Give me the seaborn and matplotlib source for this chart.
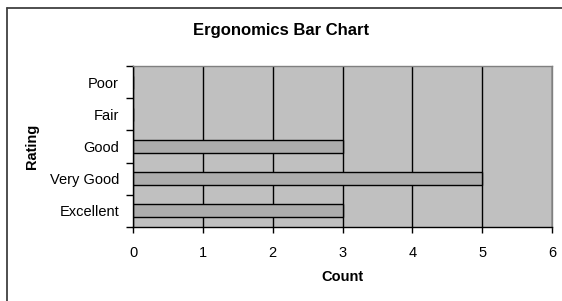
import matplotlib
matplotlib.use("Agg")
import matplotlib.pyplot as plt
import matplotlib.lines as mlines
import seaborn as sns
import pandas as pd

ratings = ["Poor", "Fair", "Good", "Very Good", "Excellent"]
counts = [0, 0, 3, 5, 3]
x_ticks = [0, 1, 2, 3, 4, 5, 6]

df = pd.DataFrame({"Rating": ratings, "Count": counts})

sns.set_style("white")
plt.rcParams['font.family'] = ['Liberation Sans', 'DejaVu Sans']
plt.rcParams['text.color'] = 'black'
plt.rcParams['axes.labelcolor'] = 'black'
plt.rcParams['xtick.color'] = 'black'
plt.rcParams['ytick.color'] = 'black'

fig = plt.figure(figsize=(5.62, 3.01), dpi=100)
ax = fig.add_axes([133 / 562, 1 - 227 / 301, 419 / 562, 161 / 301])

# outer chart frame: only top and left edges are inside the picture
fy = 1 - 7.5 / 301
fx = 7 / 562
fig.lines.append(mlines.Line2D([fx, 1.0], [fy, fy], transform=fig.transFigure,
                               color="#404040", linewidth=1.3))
fig.lines.append(mlines.Line2D([fx, fx], [0.0, fy], transform=fig.transFigure,
                               color="#404040", linewidth=1.3))

sns.barplot(data=df, x="Count", y="Rating", order=ratings, orient="h",
            width=0.4, color="#acacac", saturation=1,
            edgecolor="black", linewidth=1, ax=ax)

ax.set_facecolor("#c0c0c0")
ax.set_axisbelow(True)
ax.set_xlim(0, 6)
ax.set_xticks(x_ticks)
ax.xaxis.grid(True, color="black", linewidth=1)
ax.yaxis.grid(False)

ax.set_yticks(range(len(ratings)))
ax.set_yticks([i - 0.5 for i in range(len(ratings) + 1)], minor=True)
ax.tick_params(axis="y", which="major", length=0, pad=10, labelsize=10.5)
ax.tick_params(axis="y", which="minor", length=5, width=1, color="black", direction="out", left=True)
ax.tick_params(axis="x", length=4, width=1, color="black", direction="out", bottom=True,
               pad=10, labelsize=10.5)

for side in ["left", "bottom"]:
    ax.spines[side].set_color("black")
    ax.spines[side].set_linewidth(1)
for side in ["top", "right"]:
    ax.spines[side].set_color("#808080")
    ax.spines[side].set_linewidth(1)

ax.set_xlabel("Count", fontsize=10.5, fontweight="bold")
ax.set_ylabel("Rating", fontsize=10.5, fontweight="bold")
ax.xaxis.set_label_coords(0.5, (227 - 270) / 161)
ax.yaxis.set_label_coords((39 - 133) / 419, 0.5)

fig.text(0.5, 1 - 31 / 301, "Ergonomics Bar Chart", ha="center", va="center",
         fontsize=12, fontweight="bold")

fig.savefig("out.png", dpi=100)
